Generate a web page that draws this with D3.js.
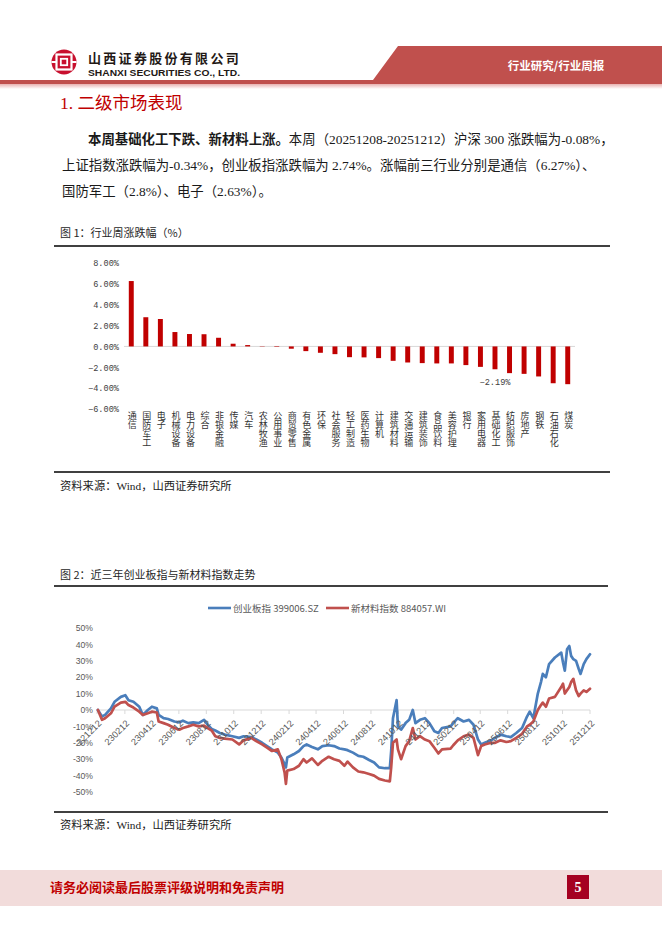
<!DOCTYPE html>
<html><head><meta charset="utf-8">
<script src="https://cdn.jsdelivr.net/npm/d3@7"></script>
<style>
html,body{margin:0;padding:0;background:#fff;}
svg{display:block;}
.vlab{writing-mode:vertical-rl;text-orientation:upright;}
</style></head>
<body>
<svg id="page" width="662" height="936"></svg>
<script>
// ---------------- data ----------------
const industries = ["通信","国防军工","电子","机械设备","电力设备","综合","非银金融","传媒","汽车","农林牧渔","公用事业","商贸零售","有色金属","环保","社会服务","轻工制造","医药生物","计算机","建筑材料","交通运输","建筑装饰","食品饮料","美容护理","银行","家用电器","基础化工","纺织服饰","房地产","钢铁","石油石化","煤炭"];
const weeklyChange = [6.27,2.80,2.63,1.38,1.19,1.17,0.83,0.26,0.13,-0.03,-0.05,-0.22,-0.45,-0.61,-0.74,-1.03,-1.05,-1.12,-1.38,-1.54,-1.60,-1.63,-1.63,-1.79,-1.96,-2.19,-2.56,-2.63,-2.88,-3.53,-3.62];
const barTicks = [-6,-4,-2,0,2,4,6,8];
const labelledIndustry = "基础化工";

const dates = ["2022-12-14","2022-12-23","2022-12-30","2023-01-12","2023-01-20","2023-02-03","2023-02-13","2023-02-20","2023-03-03","2023-03-16","2023-03-24","2023-04-04","2023-04-13","2023-04-24","2023-04-28","2023-05-09","2023-05-19","2023-06-02","2023-06-13","2023-06-21","2023-07-03","2023-07-14","2023-07-26","2023-08-07","2023-08-15","2023-08-24","2023-09-01","2023-09-11","2023-09-22","2023-10-09","2023-10-24","2023-11-03","2023-11-20","2023-12-01","2023-12-14","2023-12-25","2024-01-05","2024-01-18","2024-01-26","2024-02-02","2024-02-05","2024-02-08","2024-02-22","2024-03-05","2024-03-15","2024-03-22","2024-04-03","2024-04-16","2024-04-26","2024-05-10","2024-05-22","2024-06-03","2024-06-14","2024-06-21","2024-07-03","2024-07-15","2024-07-26","2024-08-08","2024-08-19","2024-08-30","2024-09-12","2024-09-23","2024-09-26","2024-09-30","2024-10-08","2024-10-11","2024-10-18","2024-10-28","2024-11-05","2024-11-13","2024-11-19","2024-11-29","2024-12-10","2024-12-20","2024-12-31","2025-01-09","2025-01-17","2025-02-05","2025-02-11","2025-02-21","2025-03-06","2025-03-18","2025-03-28","2025-04-07","2025-04-14","2025-04-22","2025-05-06","2025-05-15","2025-05-27","2025-06-09","2025-06-19","2025-07-01","2025-07-14","2025-07-25","2025-07-31","2025-08-08","2025-08-18","2025-08-25","2025-08-29","2025-09-05","2025-09-12","2025-09-25","2025-10-09","2025-10-13","2025-10-17","2025-10-22","2025-10-27","2025-10-31","2025-11-05","2025-11-11","2025-11-17","2025-11-21","2025-11-28","2025-12-04","2025-12-12"];
const chinext = [0,-4,-3,1,5,8,9,6,5,2,-3,0,2,1,-3,-5,-5.5,-7,-7.5,-6.5,-8,-7.5,-8,-6,-9,-11.5,-12.5,-14,-15,-16,-17,-16,-16.5,-18,-20,-22,-24,-26,-29,-33,-35,-29,-27,-25,-22,-21,-22.5,-24,-22,-21.5,-22,-23.5,-24,-24.5,-26,-28,-28.5,-30.5,-32,-35,-35.5,-35.5,-25,-5,6,-10,-12,-8,-6,0,-8,-6,-5,-8,-13,-14,-11,-10,-8,-5,-7,-6,-9,-18,-21,-20,-18.5,-17,-15,-16,-16.5,-14,-11,-4,-1,-5,10,17,22,20,28,32,35,29,24,37,39,33,31,30,25,22,28,31,34];
const newMaterial = [0,-6,-5,-2,2,4.5,5,3,1.5,-1,-3,-2,-1,-1.5,-7,-8,-9,-11,-12,-11,-10,-9,-10,-9.5,-11,-12.5,-16,-17,-17.5,-18,-21,-18.5,-17,-19,-21,-23,-25,-24,-30,-38,-45,-37,-36,-34,-30,-32,-29.5,-33.5,-31,-28.5,-30,-31,-34,-31.5,-35,-37.5,-38,-39,-40,-42,-43,-43.5,-35,-20,-18,-24,-30,-22,-19,-11,-18,-16,-18,-19,-23,-26.5,-24,-23.5,-21.5,-18.5,-16,-15,-17,-27.5,-22,-21,-20,-20,-18.5,-19.5,-19,-17,-14.5,-10,-9,-7,0,3,4.5,2,7,8,14,16,10,12,14,17,19,12,8.5,10,12,11,13];
const dateTicks = ["221212","230212","230412","230612","230812","231012","231212","240212","240412","240612","240812","241012","241212","250212","250412","250612","250812","251012","251212"];
const lineTicks = [-50,-40,-30,-20,-10,0,10,20,30,40,50];
const seriesNames = ["创业板指 399006.SZ","新材料指数 884057.WI"];
const seriesColors = ["#4a7ebb","#c0504d"];

// ---------------- page ----------------
const svg = d3.select("#page");
const CJK = "'Noto Sans CJK SC', sans-serif";
const SERIF = "'Liberation Serif','Noto Sans CJK SC', serif";

// header
const defs = svg.append("defs");
const g1 = defs.append("linearGradient").attr("id","hdrfade").attr("x1",0).attr("y1",0).attr("x2",0).attr("y2",1);
g1.append("stop").attr("offset","0").attr("stop-color","#e9b2b1");
g1.append("stop").attr("offset","1").attr("stop-color","#ffffff");
svg.append("rect").attr("x",0).attr("y",84).attr("width",662).attr("height",5).attr("fill","url(#hdrfade)");
svg.append("polygon").attr("points","0,80 373,80 398,46 662,46 662,84 0,84").attr("fill","#c0504d");
svg.append("text").attr("x",556).attr("y",70).attr("text-anchor","middle")
  .attr("font-family",CJK).attr("font-size",11.5).attr("font-weight","bold").attr("fill","#fff").text("行业研究/行业周报");

// logo
const logo = svg.append("g").attr("transform","translate(64,62)");
logo.append("circle").attr("r",12.5).attr("fill","#c8102e");
logo.append("rect").attr("x",-7.5).attr("y",-7.5).attr("width",15).attr("height",15).attr("fill","none").attr("stroke","#fff").attr("stroke-width",2.2);
logo.append("rect").attr("x",-3.2).attr("y",-3.2).attr("width",6.4).attr("height",6.4).attr("fill","none").attr("stroke","#fff").attr("stroke-width",1.8);
logo.append("rect").attr("x",-12.5).attr("y",-1).attr("width",5).attr("height",2).attr("fill","#fff");
logo.append("rect").attr("x",7.5).attr("y",-1).attr("width",5).attr("height",2).attr("fill","#fff");

svg.append("text").attr("x",88).attr("y",63).attr("font-family",CJK).attr("font-size",13).attr("font-weight","bold")
  .attr("letter-spacing",2.3).attr("fill","#231815").text("山西证券股份有限公司");
svg.append("text").attr("x",88).attr("y",75.5).attr("font-family","'Liberation Sans', Arial, sans-serif").attr("font-size",8.6).attr("font-weight","bold")
  .attr("textLength",152).attr("lengthAdjust","spacingAndGlyphs").attr("fill","#231815").text("SHANXI SECURITIES CO., LTD.");

// section title
svg.append("text").attr("x",60).attr("y",109).attr("font-family",SERIF).attr("font-size",17.5).attr("fill","#c00000").text("1. 二级市场表现");

// paragraph
const para = svg.append("g").attr("font-family",SERIF).attr("font-size",13.4).attr("fill","#1a1a1a");
const l1 = para.append("text").attr("x",88).attr("y",144);
l1.append("tspan").attr("font-weight","bold").attr("font-family",CJK).text("本周基础化工下跌、新材料上涨。");
l1.append("tspan").text("本周（20251208-20251212）沪深 300 涨跌幅为-0.08%，");
para.append("text").attr("x",62).attr("y",170).text("上证指数涨跌幅为-0.34%，创业板指涨跌幅为 2.74%。涨幅前三行业分别是通信（6.27%）、");
para.append("text").attr("x",62).attr("y",196).text("国防军工（2.8%）、电子（2.63%）。");

// ---------------- figure 1 ----------------
svg.append("text").attr("x",60).attr("y",237).attr("font-family",CJK).attr("font-size",11).attr("fill","#262626").text("图 1：行业周涨跌幅（%）");
svg.append("line").attr("x1",54).attr("x2",610).attr("y1",246).attr("y2",246).attr("stroke","#000").attr("stroke-width",1.3);

const xb = d3.scaleBand().domain(industries).range([124,575]).paddingInner(0.66).paddingOuter(0.33);
const yb = d3.scaleLinear().domain([-6,8]).range([409,263]);

const f1 = svg.append("g");
f1.append("line").attr("x1",124).attr("x2",575).attr("y1",yb(0)).attr("y2",yb(0)).attr("stroke","#d9d9d9").attr("stroke-width",1);
const yAxis1 = f1.append("g").attr("transform","translate(119,0)")
  .call(d3.axisLeft(yb).tickValues(barTicks).tickSize(0).tickPadding(0).tickFormat(d => d3.format(".2f")(d) + "%"));
yAxis1.select(".domain").remove();
yAxis1.selectAll("text").attr("font-family","'Liberation Mono', monospace").attr("font-size",8.6).attr("fill","#404040");

f1.selectAll("rect.bar").data(industries).join("rect").attr("class","bar")
  .attr("x", d => xb(d)).attr("width", xb.bandwidth())
  .attr("y", (d,i) => yb(Math.max(0, weeklyChange[i])))
  .attr("height", (d,i) => Math.abs(yb(weeklyChange[i]) - yb(0)))
  .attr("fill","#c00000");

const li = industries.indexOf(labelledIndustry);
f1.append("text").attr("x", xb(labelledIndustry) + xb.bandwidth()/2).attr("y", yb(weeklyChange[li]) + 16)
  .attr("text-anchor","middle").attr("font-family","'Liberation Mono', monospace").attr("font-size",8.6).attr("fill","#404040")
  .text(d3.format(".2f")(weeklyChange[li]) + "%");

// category labels: stacked vertical text
f1.append("g").selectAll("text").data(industries).join("text")
  .attr("class","vlab")
  .attr("x", d => xb(d) + xb.bandwidth()/2 + 1)
  .attr("y", 411)
  .attr("font-family",CJK).attr("font-size",9).attr("fill","#333")
  .text(d => d);

svg.append("line").attr("x1",54).attr("x2",610).attr("y1",472).attr("y2",472).attr("stroke","#000").attr("stroke-width",1.3);
svg.append("text").attr("x",60).attr("y",490).attr("font-family",SERIF).attr("font-size",11.3).attr("fill","#1a1a1a").text("资料来源：Wind，山西证券研究所");

// ---------------- figure 2 ----------------
svg.append("text").attr("x",60).attr("y",579).attr("font-family",CJK).attr("font-size",11).attr("fill","#262626").text("图 2：近三年创业板指与新材料指数走势");
svg.append("line").attr("x1",54).attr("x2",608).attr("y1",586).attr("y2",586).attr("stroke","#000").attr("stroke-width",1.3);

const parseD = d3.timeParse("%Y-%m-%d");
const parseT = d3.timeParse("%y%m%d");
const xt = d3.scaleTime().domain([parseT(dateTicks[0]), parseT(dateTicks[dateTicks.length-1])]).range([97,590]);
const yl = d3.scaleLinear().domain([-50,50]).range([792,628]);

const f2 = svg.append("g");
const yAxis2 = f2.append("g").attr("transform","translate(93,0)")
  .call(d3.axisLeft(yl).tickValues(lineTicks).tickSize(0).tickPadding(0).tickFormat(d => d + "%"));
yAxis2.select(".domain").remove();
yAxis2.selectAll("text").attr("font-family","'Liberation Sans', Arial, sans-serif").attr("font-size",8.6).attr("fill","#595959");

f2.append("line").attr("x1",97).attr("x2",590).attr("y1",yl(0)).attr("y2",yl(0)).attr("stroke","#d9d9d9");
const tickDates = dateTicks.map(parseT);
f2.selectAll("line.tk").data(tickDates).join("line").attr("class","tk")
  .attr("x1", d => xt(d)).attr("x2", d => xt(d)).attr("y1", yl(0)).attr("y2", yl(0) + 4).attr("stroke","#d9d9d9");

const seriesData = [chinext, newMaterial].map(vals => dates.map((d,i) => ({date: parseD(d), v: vals[i]})));
const line = d3.line().x(d => xt(d.date)).y(d => yl(d.v));
seriesData.forEach((s,k) => {
  f2.append("path").datum(s).attr("d", line).attr("fill","none").attr("stroke", seriesColors[k])
    .attr("stroke-width",2.7).attr("stroke-linejoin","round").attr("stroke-linecap","round");
});

f2.selectAll("text.xl").data(tickDates).join("text").attr("class","xl")
  .attr("transform", d => `translate(${xt(d) + 5},${yl(0) + 14}) rotate(-45)`)
  .attr("text-anchor","end").attr("font-family","'Liberation Sans', Arial, sans-serif").attr("font-size",9.2).attr("fill","#595959")
  .text(d => d3.timeFormat("%y%m%d")(d));

// legend
const leg = f2.append("g").attr("font-family",CJK).attr("font-size",9.5).attr("fill","#595959");
const legX = [208, 326];
seriesNames.forEach((n,k) => {
  leg.append("line").attr("x1",legX[k]).attr("x2",legX[k]+23).attr("y1",608).attr("y2",608).attr("stroke",seriesColors[k]).attr("stroke-width",2.6);
  leg.append("text").attr("x",legX[k]+25).attr("y",611.5).text(n);
});

svg.append("line").attr("x1",54).attr("x2",608).attr("y1",812).attr("y2",812).attr("stroke","#000").attr("stroke-width",1.3);
svg.append("text").attr("x",60).attr("y",829).attr("font-family",SERIF).attr("font-size",11.3).attr("fill","#1a1a1a").text("资料来源：Wind，山西证券研究所");

// ---------------- footer ----------------
svg.append("rect").attr("x",0).attr("y",870).attr("width",662).attr("height",36).attr("fill","#f2dcdb");
svg.append("text").attr("x",50).attr("y",892).attr("font-family",CJK).attr("font-size",13).attr("font-weight","bold")
  .attr("fill","#c00000").text("请务必阅读最后股票评级说明和免责声明");
svg.append("rect").attr("x",567).attr("y",875).attr("width",22).attr("height",24).attr("fill","#a50021");
svg.append("text").attr("x",578).attr("y",892).attr("text-anchor","middle").attr("font-family",SERIF).attr("font-size",14).attr("font-weight","bold").attr("fill","#fff").text("5");
</script>
</body></html>
